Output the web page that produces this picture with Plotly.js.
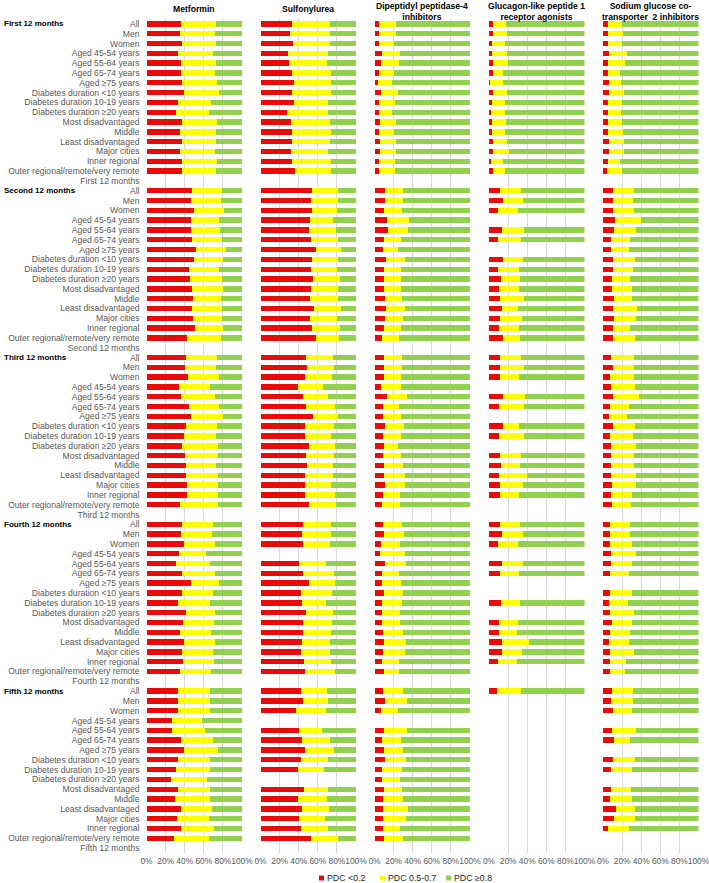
<!DOCTYPE html>
<html>
<head>
<meta charset="utf-8">
<script src="https://cdn.plot.ly/plotly-3.0.1.min.js"></script>
<style>
  html, body { margin: 0; padding: 0; background: #ffffff; }
  #chart { width: 709px; height: 883px; }
</style>
</head>
<body>
<div id="chart"></div>
<script>
// Subgroup rows shown within every 12-month period
const rowLabels = [
  "All", "Men", "Women",
  "Aged 45-54 years", "Aged 55-64 years", "Aged 65-74 years", "Aged ≥75 years",
  "Diabetes duration &lt;10 years", "Diabetes duration 10-19 years", "Diabetes duration ≥20 years",
  "Most disadvantaged", "Middle", "Least disadvantaged",
  "Major cities", "Inner regional", "Outer regional/remote/very remote"
];
const periods = ["First 12 months", "Second 12 months", "Third 12 months", "Fourth 12 months", "Fifth 12 months"];
const drugNames = [
  "Metformin",
  "Sulfonylurea",
  "Dipeptidyl peptidase-4<br>inhibitors",
  "Glucagon-like peptide 1<br>receptor agonists",
  "Sodium glucose co-<br>transporter  2 inhibitors"
];
const seriesNames = ["PDC &lt;0.2", "PDC 0.5-0.7", "PDC ≥0.8"];
const xTickVals = [0, 20, 40, 60, 80, 100];
const xTickText = ["0%", "20%", "40%", "60%", "80%", "100%"];

// Share of people (%) in each adherence band; one line per period, 16 subgroups each
const metforminLow = [
  36,35,37,33,36,36,37,39,33,31,37,35,37,35,37,37,
  48,47,50,47,47,48,52,50,45,46,48,49,48,49,51,42,
  41,40,43,34,36,44,47,41,39,37,40,41,41,42,42,35,
  37,36,39,34,31,37,47,37,33,41,38,35,39,37,38,35,
  33,33,33,27,27,36,39,33,31,26,33,30,36,32,36,29
];
const metforminMid = [
  37,37,36,37,37,36,37,37,35,34,37,38,36,37,37,36,
  31,31,31,29,30,31,31,30,31,33,32,29,31,30,29,36,
  33,33,33,32,36,32,33,33,34,38,35,32,34,33,33,40,
  33,33,33,28,35,35,29,33,33,31,33,33,33,33,33,33,
  33,34,33,31,34,34,36,34,35,37,33,36,33,33,35,36
];
const metforminHigh = [
  27,28,27,30,27,28,26,24,32,35,26,27,27,28,26,27,
  21,22,19,24,23,21,17,20,24,21,20,22,21,21,20,22,
  26,27,24,34,28,24,20,26,27,25,25,27,25,25,25,25,
  30,31,28,38,34,28,24,30,34,28,29,32,28,30,29,32,
  34,33,34,42,39,30,25,33,34,37,34,34,31,35,29,35
];

const sulfonylureaLow = [
  33,31,34,29,30,33,35,33,35,28,32,33,33,32,33,36,
  54,53,54,52,51,53,58,54,53,55,53,52,56,52,54,58,
  48,49,47,39,45,48,55,47,47,51,48,49,47,47,47,51,
  44,43,45,null,40,45,51,42,43,48,45,45,43,42,46,47,
  42,45,37,null,40,43,47,42,39,null,46,39,43,40,42,53
];
const sulfonylureaMid = [
  40,42,39,42,40,41,39,41,36,43,41,41,40,39,41,38,
  27,28,26,24,28,28,26,27,27,28,28,29,28,28,29,24,
  28,28,28,26,26,30,26,30,27,27,29,27,29,27,31,28,
  30,31,28,null,29,32,27,33,26,28,30,29,30,31,28,31,
  28,26,32,null,24,30,30,29,27,null,25,31,29,28,29,28
];
const sulfonylureaHigh = [
  27,27,27,29,30,26,26,26,29,29,27,26,27,29,26,26,
  19,19,20,24,21,19,16,19,20,17,19,19,16,20,17,18,
  24,23,25,35,29,22,19,23,26,22,23,24,24,26,22,21,
  26,26,27,null,31,23,22,25,31,24,25,26,27,27,26,22,
  30,29,31,null,36,27,23,29,34,null,29,30,28,32,29,19
];

const dpp4Low = [
  5,5,5,8,7,4.5,3.5,7,5,4.5,6,4.5,6,6,4.5,5,
  10.5,11,10,13,14,9.5,9,12.5,10,9.5,10,10.5,12,11,10,8,
  10,10,10,7,13,9,9,11,9,10,9,10,9.5,10.5,9,8,
  9,9.5,7,6,10.5,8,8,10,8,8,8,9,9.5,9,7.5,10,
  9,10.5,6.5,null,9.5,8,10,11.5,8,8,9.5,9,9,9,8.5,10
];
const dpp4Mid = [
  17,17,15,19,19,15.5,14.5,18,16,14,16,15.5,16,16,16.5,16,
  19,19,19,23,21,18,16,19,18,18,18,18,20,19,18,18,
  19,19,18,21,21,17,19,20,19,15,19,19.5,22,21,17.5,19,
  20,21,20,26,22,18,20,19.5,20.5,19,18.5,21,23.5,23,18.5,16,
  21,23.5,18,null,25,20,19.5,21,21,19,19,21,26,23.5,18,20
];
const dpp4High = [
  78,78,80,73,74,80,82,75,79,81.5,78,80,78,78,79,79,
  70.5,70,71,64,65,72.5,75,68.5,72,72.5,72,71.5,68,70,72,74,
  71,71,72,72,66,74,72,69,72,75,72,70.5,68.5,68.5,73.5,73,
  71,69.5,73,68,67.5,74,72,70.5,71.5,73,73.5,70,67,68,74,74,
  70,66,75.5,null,65.5,72,70.5,67.5,71,73,71.5,70,65,67.5,73.5,70
];

const glp1Low = [
  4,4,3,3.5,4,4,1,4,3.5,2.5,3.5,3.5,4.5,4.5,2.5,4.5,
  11.5,14.5,9.5,null,14,9.5,null,15,9.5,13,10.5,11.5,13.5,11.5,10.5,14.5,
  11.5,12,11,null,15,10.5,null,15,10.5,null,11,12.5,10,11.5,11,null,
  11,14,9,null,13.5,11.5,null,null,13,null,10,10.5,13.5,14,9.5,null,
  8.5,null,null,null,null,null,null,null,null,null,null,null,null,null,null,null
];
const glp1Mid = [
  14,15,14,15.5,16,11,14,15,13.5,14.5,14.5,13.5,14.5,16.5,12,12,
  21.5,21.5,21,null,22.5,23.5,null,21,22,19,21,25,16.5,23.5,20.5,17.5,
  22.5,24.5,20.5,null,23,26,null,16,26,null,22,19.5,30,24,20.5,null,
  21.5,21.5,21,null,22.5,19.5,null,null,19.5,null,20,19,28,21,20,null,
  24.5,null,null,null,null,null,null,null,null,null,null,null,null,null,null,null
];
const glp1High = [
  82,81,83,81,80,85,85,81,83,83,82,83,81,79,85.5,83.5,
  67,64,69.5,null,63.5,67,null,64,68.5,68,68.5,63.5,70,65,69,68,
  66,63.5,68.5,null,62,63.5,null,69,63.5,null,67,68,60,64.5,68.5,null,
  67.5,64.5,70,null,64,69,null,null,67.5,null,70,70.5,58.5,65,70.5,null,
  67,null,null,null,null,null,null,null,null,null,null,null,null,null,null,null
];

const sglt2Low = [
  5,5,5.5,6,5.5,5,6,6,5,5.5,5,5.5,6,6.5,5,4,
  10.5,10,10,13,12,8.5,8.5,10,10.5,9.5,9.5,11.5,10.5,11.5,10,10,
  8.5,10,7,8.5,10.5,7,6,10,7.5,8.5,8.5,8.5,8.5,9,8,9.5,
  7.5,7.5,7,8.5,8.5,7,null,7.5,6.5,7.5,9,7.5,6.5,7.5,7.5,7.5,
  9.5,8.5,10,null,9,11,null,10,8.5,null,8.5,7.5,13.5,11.5,5.5,null
];
const sglt2Mid = [
  15,16,14.5,19,17.5,13,12.5,15.5,14.5,13,14.5,15,16,16,12.5,15.5,
  21.5,21,22.5,26.5,23,20,19,23,20.5,19,21,19,25.5,23.5,18,23.5,
  24,22,25.5,25.5,27,20.5,19.5,23.5,23.5,26,23.5,24,26,26,22,19.5,
  21,20.5,23,26,22,20.5,null,23,19.5,25,21.5,20.5,21,25,16.5,16,
  21.5,23,20.5,null,26,17.5,null,24,22,null,21,23,20,22,22,null
];
const sglt2High = [
  80,79,80,75,77,82,81.5,78.5,80.5,81.5,80.5,79.5,78,77.5,82.5,80.5,
  68,69,67.5,60.5,65,71.5,72.5,67,69,71.5,69.5,69.5,64,65,72,66.5,
  67.5,68,67.5,66,62.5,72.5,74.5,66.5,69,65.5,68,67.5,65.5,65,70,71,
  71.5,72,70,65.5,69.5,72.5,null,69.5,74,67.5,69.5,72,72.5,67.5,76,76.5,
  69,68.5,69.5,null,65,71.5,null,66,69.5,null,70.5,69.5,66.5,66.5,72.5,null
];

const drugSeries = [
  [metforminLow, metforminMid, metforminHigh],
  [sulfonylureaLow, sulfonylureaMid, sulfonylureaHigh],
  [dpp4Low, dpp4Mid, dpp4High],
  [glp1Low, glp1Mid, glp1High],
  [sglt2Low, sglt2Mid, sglt2High]
];

// ---- styling ----
const bandColors = ["#ea0a0a", "#ffff00", "#92d050"];
const FONT = "Liberation Sans, Arial, Helvetica, sans-serif";
const W = 709, H = 883;
const M = { t: 19, b: 30 };
const plotH = H - M.t - M.b;
const panelLeft = [146.5, 260.5, 374.5, 489, 603];
const panelWidth = 95.5;
const px2x = px => px / W;
const px2y = py => (H - M.b - py) / plotH;

// Row positions: each period is its 16 subgroups followed by a period label row
const rowsPerPeriod = rowLabels.length + 1;
const yPos = [], tickVals = [], tickText = [];
periods.forEach((per, pi) => {
  rowLabels.forEach((lab, ri) => {
    yPos.push(pi * rowsPerPeriod + ri);
    tickVals.push(pi * rowsPerPeriod + ri);
    tickText.push(lab);
  });
  tickVals.push(pi * rowsPerPeriod + rowLabels.length);
  tickText.push(per);
});
const nRows = periods.length * rowsPerPeriod;

const traces = [];
drugSeries.forEach((bands, di) => {
  const xa = di === 0 ? "x" : "x" + (di + 1);
  bands.forEach((vals, bi) => {
    traces.push({
      type: "bar",
      orientation: "h",
      x: vals,
      y: yPos,
      xaxis: xa,
      yaxis: "y",
      name: seriesNames[bi],
      legendgroup: "band" + bi,
      showlegend: false,
      marker: { color: bandColors[bi], line: { width: 0 } },
      hoverinfo: "x+name"
    });
  });
});

const layout = {
  width: W,
  height: H,
  margin: { l: 0, r: 0, t: M.t, b: M.b, pad: 0 },
  paper_bgcolor: "#ffffff",
  plot_bgcolor: "rgba(0,0,0,0)",
  barmode: "stack",
  bargap: 0.45,
  showlegend: false,
  font: { family: FONT, size: 8.6, color: "#595959" },
  yaxis: {
    domain: [0, 1],
    anchor: "x",
    range: [nRows - 0.5, -0.5],
    tickmode: "array",
    tickvals: tickVals,
    ticktext: tickText,
    ticks: "",
    ticklabelstandoff: 6,
    showgrid: false,
    zeroline: false,
    showline: false,
    automargin: false,
    fixedrange: true,
    tickfont: { family: FONT, size: 8.6, color: "#595959" }
  },
  annotations: [],
  shapes: []
};

drugNames.forEach((name, di) => {
  const key = di === 0 ? "xaxis" : "xaxis" + (di + 1);
  layout[key] = {
    domain: [px2x(panelLeft[di]), px2x(panelLeft[di] + panelWidth)],
    anchor: "y",
    range: [0, 100],
    tickmode: "array",
    tickvals: xTickVals,
    ticktext: xTickText,
    tickangle: 0,
    ticks: "",
    ticklabelstandoff: 2,
    ticklabeloverflow: "allow",
    showgrid: true,
    gridcolor: "#d9d9d9",
    gridwidth: 1,
    zeroline: false,
    showline: false,
    automargin: false,
    fixedrange: true,
    tickfont: { family: FONT, size: 8.4, color: "#595959" }
  };
  const twoLine = name.indexOf("<br>") >= 0;
  layout.annotations.push({
    text: "<b>" + name + "</b>",
    xref: "paper", yref: "paper",
    x: px2x(panelLeft[di] + panelWidth / 2),
    y: px2y(twoLine ? 11.5 : 9),
    xanchor: "center", yanchor: "middle",
    showarrow: false,
    font: { family: FONT, size: 8.6, color: "#000000" }
  });
});

// Bold period headings beside each "All" row
periods.forEach((per, pi) => {
  layout.annotations.push({
    text: "<b>" + per + "</b>",
    xref: "paper", yref: "y",
    x: px2x(2), y: pi * rowsPerPeriod,
    xanchor: "left", yanchor: "middle",
    showarrow: false,
    font: { family: FONT, size: 8, color: "#000000" }
  });
});

// Legend: small colour squares with labels below the axes
const legendItems = [
  { sq: 321.5, tx: 324.5 },
  { sq: 382.5, tx: 385.5 },
  { sq: 448.5, tx: 451.5 }
];
const legendY = 878;
legendItems.forEach((it, bi) => {
  layout.shapes.push({
    type: "rect", xref: "paper", yref: "paper",
    x0: px2x(it.sq - 2.5), x1: px2x(it.sq + 2.5),
    y0: px2y(legendY + 2.5), y1: px2y(legendY - 2.5),
    fillcolor: bandColors[bi], line: { width: 0 }
  });
  layout.annotations.push({
    text: seriesNames[bi],
    xref: "paper", yref: "paper",
    x: px2x(it.tx), y: px2y(legendY),
    xanchor: "left", yanchor: "middle",
    showarrow: false,
    font: { family: FONT, size: 8.8, color: "#262626" }
  });
});

Plotly.newPlot("chart", traces, layout, { displayModeBar: false, staticPlot: true });
</script>
</body>
</html>
